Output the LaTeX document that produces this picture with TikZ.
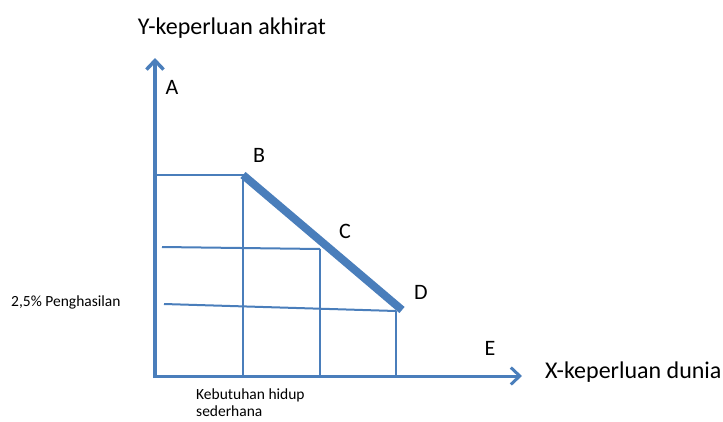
\documentclass[tikz,border=0pt]{standalone}
\usepackage{fontspec}
\setmainfont{Carlito}
\usetikzlibrary{arrows.meta}
\definecolor{lineblue}{RGB}{74,126,187}

\begin{document}
\begin{tikzpicture}[
  x=1pt,y=-1pt,
  axis/.style={draw=lineblue,line width=3.5pt,-{Straight Barb[length=9pt,width=17pt]}},
  grid/.style={draw=lineblue,line width=2pt},
  thin/.style={draw=lineblue,line width=1.2pt},
  budget/.style={draw=lineblue,line width=8pt},
  title/.style={font=\fontsize{24}{28}\selectfont,inner sep=0pt},
  point/.style={font=\fontsize{22}{26}\selectfont,inner sep=0pt},
  note/.style={font=\fontsize{15.5}{17}\selectfont,inner sep=0pt,align=left}
]
\useasboundingbox (0,0) rectangle (723,421);
% titik-titik
\coordinate (o) at (155,376);
\coordinate (ytop) at (155,58);
\coordinate (xtop) at (522,376);
\coordinate (yb) at (155,175);
\coordinate (b) at (243,175);
\coordinate (bx) at (243,376);
\coordinate (d) at (402,310);
\coordinate (cl) at (162,247);
\coordinate (c) at (320,249);
\coordinate (cx) at (320,376);
\coordinate (dl) at (164,304);
\coordinate (dd) at (396,311);
\coordinate (dx) at (396,376);
% garis bantu
\draw[grid] (yb) -- (b) -- (bx);
\draw[grid] (cl) -- (c);
\draw[thin] (c) -- (cx);
\draw[grid] (dl) -- (dd);
\draw[grid] (dd) -- (dx);
\draw[budget] (b) -- (d);
% sumbu
\draw[axis] (o.center) ++(0,2) -- (ytop);
\draw[axis,line width=3pt] (o) -- (xtop);
% label
\node[title] (ylab) at (232,28) {Y-keperluan akhirat};
\node[title,anchor=west] (xlab) at (545,372) {X-keperluan dunia};
\node[point] (la) at (172,87) {A};
\node[point] (lb) at (259,155) {B};
\node[point] (lc) at (345,231) {C};
\node[point] (ld) at (421,292) {D};
\node[point] (le) at (490,348) {E};
\node[note,anchor=west] (gaji) at (11,302) {2,5\% Penghasilan};
\node[note,anchor=north west] (hidup) at (196,389) {Kebutuhan hidup\\sederhana};
\end{tikzpicture}
\end{document}
